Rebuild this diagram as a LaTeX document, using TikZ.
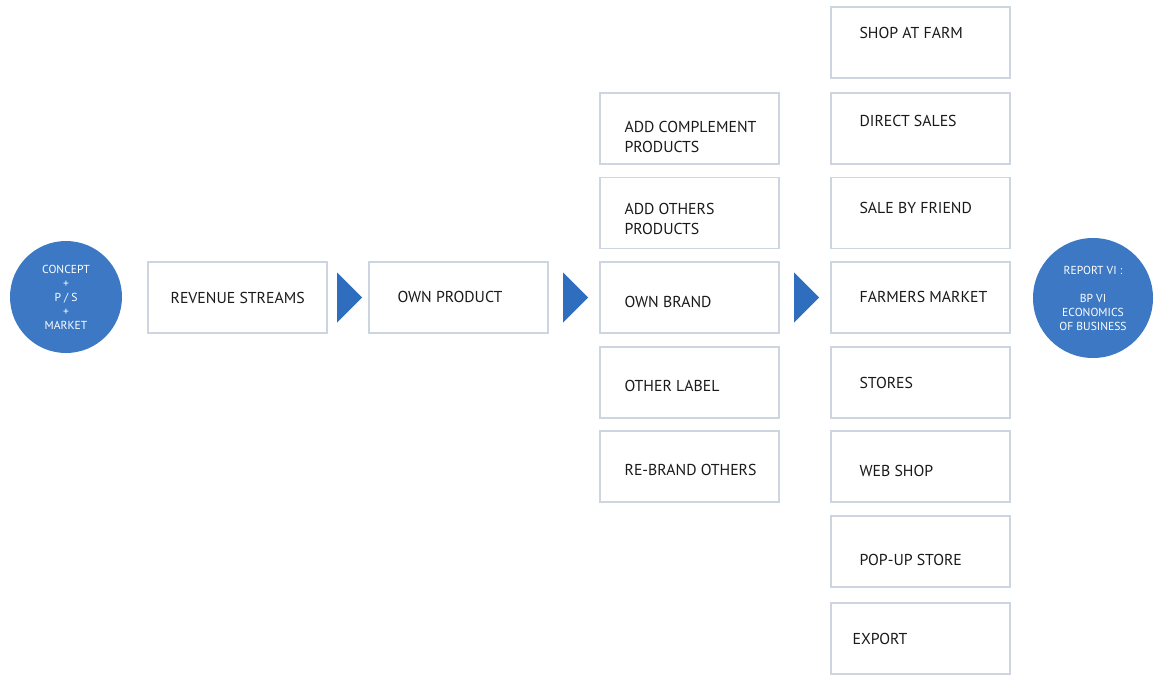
\documentclass[tikz,border=0pt]{standalone}
\usepackage{fontspec}
\setmainfont{PT Sans}
\usepackage{xcolor}
\usetikzlibrary{positioning, calc}
\definecolor{discblue}{HTML}{3C78C3}
\definecolor{headblue}{HTML}{2F6EBF}
\definecolor{boxline}{HTML}{CDD5E0}
\definecolor{inkcol}{HTML}{1A1A1A}

\begin{document}
\begin{tikzpicture}[
  x=1pt, y=-1pt,
  box/.style={rectangle, draw=boxline, line width=1.2pt, fill=white,
              minimum width=179pt, minimum height=71pt, inner sep=0pt},
  tag/.style={font=\fontsize{15.8}{20}\selectfont, text=inkcol, align=left,
              anchor=west, inner sep=0pt},
  disc/.style={circle, fill=discblue, text=white, align=center, inner sep=0pt,
               font=\fontsize{11.6}{14}\selectfont},
]
  \useasboundingbox (0,0) rectangle (1157,677);
  % start and end
  \node[disc, minimum size=112pt] (idea) at (66,297)
    {CONCEPT\\+\\P / S\\+\\MARKET};
  \node[disc, minimum size=120pt] (report) at (1093,298)
    {REPORT VI :\\ \\BP VI\\ECONOMICS\\OF BUSINESS};
  % main chain
  \node[box, label={[tag, xshift=23pt]west:REVENUE STREAMS}] (rev) at (237.5,297.5) {};
  \node[box, label={[tag, xshift=29pt, yshift=1pt]west:OWN PRODUCT}] (own) at (458.5,297.5) {};
  % product column
  \node[box, label={[tag, xshift=25pt, yshift=-8pt]west:ADD COMPLEMENT\\PRODUCTS}] (compl) at (689.5,128.5) {};
  \node[box, label={[tag, xshift=25pt, yshift=-6pt]west:ADD OTHERS\\PRODUCTS}] (others) at (689.5,213) {};
  \node[box, label={[tag, xshift=25pt, yshift=-4pt]west:OWN BRAND}] (brand) at (689.5,297.5) {};
  \node[box, label={[tag, xshift=25pt, yshift=-3pt]west:OTHER LABEL}] (label) at (689.5,382.5) {};
  \node[box, label={[tag, xshift=25pt, yshift=-3pt]west:RE-BRAND OTHERS}] (rebrand) at (689.5,466.5) {};
  % sales column
  \node[box, label={[tag, xshift=29pt, yshift=10pt]west:SHOP AT FARM}] (farm) at (920.5,42.5) {};
  \node[box, label={[tag, xshift=29pt, yshift=8pt]west:DIRECT SALES}] (direct) at (920.5,128.5) {};
  \node[box, label={[tag, xshift=29pt, yshift=5pt]west:SALE BY FRIEND}] (friend) at (920.5,213) {};
  \node[box, label={[tag, xshift=29pt, yshift=1pt]west:FARMERS MARKET}] (market) at (920.5,297.5) {};
  \node[box, label={[tag, xshift=29pt]west:STORES}] (stores) at (920.5,382.5) {};
  \node[box, label={[tag, xshift=29pt, yshift=-4pt]west:WEB SHOP}] (web) at (920.5,466.5) {};
  \node[box, label={[tag, xshift=29pt, yshift=-8pt]west:POP-UP STORE}] (popup) at (920.5,551.5) {};
  \node[box, label={[tag, xshift=22pt]west:EXPORT}] (export) at (920.5,638.5) {};
  % arrow heads between the steps
  \foreach \from/\to in {rev/own, own/brand, brand/market} {
    \coordinate (mid) at ($(\from.east)!0.5!(\to.west)$);
    \fill[headblue] ($(mid)+(-11,-25)$) -- ($(mid)+(14,0)$) -- ($(mid)+(-11,25)$) -- cycle;
  }
\end{tikzpicture}
\end{document}
